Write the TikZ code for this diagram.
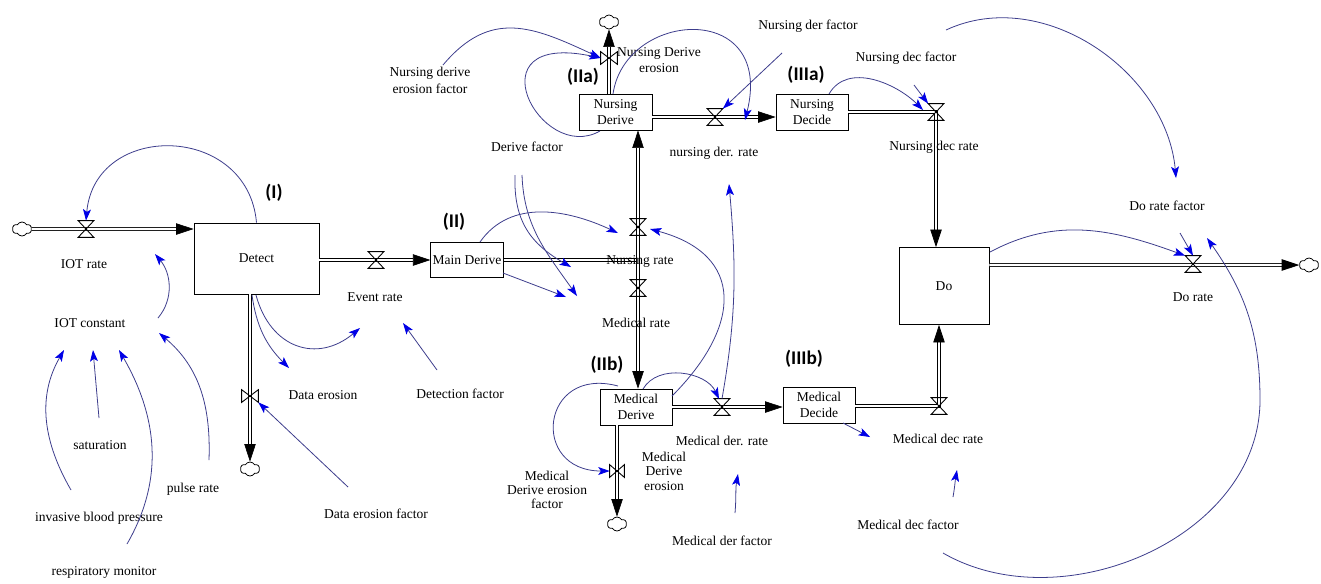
\documentclass[tikz,border=0pt]{standalone}
\usepackage{fontspec}
\setmainfont{Liberation Serif}
\newfontfamily\tagfont{Carlito}
\usetikzlibrary{arrows.meta, shapes.symbols}
\definecolor{linkc}{RGB}{60,60,140}
\definecolor{tipc}{RGB}{0,0,230}

\begin{document}
\begin{tikzpicture}[x=0.02cm, y=0.02cm,
  every node/.style={font=\rmfamily\fontsize{7.7}{9}\selectfont, inner sep=1pt, align=center},
  stock/.style={draw, fill=white, line width=0.45pt, minimum width=1.44cm, minimum height=0.72cm},
  tag/.style={font=\tagfont\bfseries\fontsize{11}{13}\selectfont},
  pipe/.style={draw, line width=0.4pt, double=white, double distance=1.3pt},
  flow/.style={pipe, -{Triangle[length=10pt,width=6.5pt]}},
  link/.style={draw=linkc, line width=0.45pt, -{Stealth[length=6.5pt,width=4.5pt,inset=1.5pt,color=tipc]}},
  valve/.style={minimum width=0.3cm, minimum height=0.32cm, inner sep=0pt},
  bowtie/.style={minimum width=0.32cm, minimum height=0.24cm, inner sep=0pt},
  sink/.style={cloud, cloud puffs=6, cloud puff arc=120, draw, line width=0.45pt, aspect=1.3, minimum width=0.38cm, minimum height=0.28cm, inner sep=0pt}
]
  \path[use as bounding box, fill=white] (0,0) rectangle (1321,-583);

  % stocks
  \node[stock, minimum width=2.5cm, minimum height=1.42cm] (detect) at (256.5,-258.5) {Detect};
  \node[stock, minimum height=0.7cm] (mainderive) at (467,-260) {Main Derive};
  \node[stock, minimum width=1.46cm] (nursderive) at (615.5,-112) {Nursing\\Derive};
  \node[stock] (nursdecide) at (812,-112) {Nursing\\Decide};
  \node[stock] (medderive) at (636,-407) {Medical\\Derive};
  \node[stock] (meddecide) at (819,-405) {Medical\\Decide};
  \node[stock, minimum width=1.8cm, minimum height=1.54cm] (do) at (944,-286) {Do};

  % sources and sinks
  \node[sink] (cl1) at (22,-229) {};
  \node[sink] (cl2) at (250,-469) {};
  \node[sink] (cl3) at (609,-22) {};
  \node[sink] (cl4) at (617,-524) {};
  \node[sink] (cl5) at (1309,-265) {};

  % pipes
  \coordinate (jn) at (638,-260);
  \coordinate (cn1) at (936,-112);
  \coordinate (cn2) at (939,-406);
  \draw[flow] (cl1) -- (cl1 -| detect.west);
  \draw[flow] (detect.east |- mainderive) -- (mainderive.west);
  \draw[flow] (detect.south -| cl2) -- (cl2);
  \draw[pipe] (mainderive.east) -- (jn);
  \draw[flow] (jn) -- (jn |- nursderive.south);
  \draw[flow] (jn) -- (jn |- medderive.north);
  \draw[flow] (nursderive.north -| cl3) -- (cl3);
  \draw[flow] ([yshift=-0.1cm]nursderive.east) -- ([yshift=-0.1cm]nursdecide.west);
  \draw[flow] (nursdecide.east) -- (cn1) -- (cn1 |- do.north);
  \draw[flow] (medderive.east) -- (medderive.east -| meddecide.west);
  \draw[flow] (medderive.south -| cl4) -- (cl4);
  \draw[flow] (meddecide.east |- cn2) -- (cn2) -- (cn2 |- do.south);
  \draw[flow] (do.east |- cl5) -- (cl5);

  % valves
  \node[valve] (viot) at (86,-229) {};
  \node[valve] (vevent) at (376,-260) {};
  \node[bowtie] (verode) at (250,-396) {};
  \node[valve] (vnrate) at (638,-227) {};
  \node[valve] (vmrate) at (638,-288) {};
  \node[bowtie] (vnerode) at (609,-58) {};
  \node[valve] (vnder) at (715,-117) {};
  \node[valve] (vndec) at (936,-112) {};
  \node[valve] (vmder) at (722,-407) {};
  \node[bowtie, minimum width=0.28cm] (vmerode) at (617,-471) {};
  \node[valve] (vmdec) at (939,-406) {};
  \node[valve] (vdo) at (1193,-264) {};
  \foreach \v in {viot,vevent,vnrate,vmrate,vnder,vndec,vmder,vmdec,vdo}
    \draw[line width=0.5pt] (\v.north west) -- (\v.north east) -- (\v.south west) -- (\v.south east) -- cycle;
  \foreach \v in {verode,vnerode,vmerode}
    \draw[line width=0.5pt] (\v.north west) -- (\v.south west) -- (\v.north east) -- (\v.south east) -- cycle;

  % rate labels
  \node (liot) at (84,-264) {IOT rate};
  \node (levent) at (375,-297) {Event rate};
  \node (lerode) at (323,-395) {Data erosion};
  \node (lnrate) at (640,-261) {Nursing rate};
  \node (lmrate) at (636,-323) {Medical rate};
  \node (lnerode) at (659,-60) {Nursing Derive\\erosion};
  \node (lnder) at (714,-153) {nursing der. rate};
  \node (lndec) at (934,-147) {Nursing dec rate};
  \node (lmder) at (722,-441) {Medical der. rate};
  \node[font=\rmfamily\fontsize{7.7}{8.2}\selectfont] (lmerode) at (664,-471) {Medical\\Derive\\erosion};
  \node (lmdec) at (938,-439) {Medical dec rate};
  \node (ldo) at (1193,-297) {Do rate};

  % auxiliaries
  \node (iotc) at (90,-323) {IOT constant};
  \node (sat) at (100,-445) {saturation};
  \node (pulse) at (193,-489) {pulse rate};
  \node (ibp) at (99,-518) {invasive blood pressure};
  \node (resp) at (104,-572) {respiratory monitor};
  \node (def) at (376,-514) {Data erosion factor};
  \node (detf) at (460,-394) {Detection factor};
  \node (derf) at (527,-147) {Derive factor};
  \node[font=\rmfamily\fontsize{7.7}{9.6}\selectfont] (nderf) at (430,-80) {Nursing derive\\erosion factor};
  \node (nderfac) at (808,-26) {Nursing der factor};
  \node (ndecf) at (906,-58) {Nursing dec factor};
  \node (dof) at (1167,-206) {Do rate factor};
  \node (mderfac) at (722,-541) {Medical der factor};
  \node (mdecf) at (908,-525) {Medical dec factor};
  \node[font=\rmfamily\fontsize{7.7}{7.8}\selectfont] (mderf) at (547,-490) {Medical\\Derive erosion\\factor};

  % section tags
  \node[tag] (t1) at (274,-193) {(I)};
  \node[tag] (t2) at (454,-222) {(II)};
  \node[tag] (t2a) at (583,-77) {(IIa)};
  \node[tag] (t3a) at (806,-75) {(IIIa)};
  \node[tag] (t2b) at (607,-365) {(IIb)};
  \node[tag] (t3b) at (804,-359) {(IIIb)};

  % free ends of the links
  \coordinate (k2a) at (158,-318);  \coordinate (k2b) at (155,-254);
  \coordinate (k3a) at (99,-418);   \coordinate (k3b) at (93,-350);
  \coordinate (k4a) at (71,-490);   \coordinate (k4b) at (64,-350);
  \coordinate (k5a) at (127,-544);  \coordinate (k5b) at (119,-350);
  \coordinate (k6a) at (209,-460);  \coordinate (k6b) at (159,-333);
  \coordinate (k7a) at (252,-295);  \coordinate (k7b) at (289,-368);
  \coordinate (k8a) at (256,-295);  \coordinate (k8b) at (360,-328);
  \coordinate (k9a) at (437,-370);  \coordinate (k9b) at (403,-323);
  \coordinate (k10a) at (348,-487);
  \coordinate (k11a) at (480,-242); \coordinate (k11b) at (618,-233);
  \coordinate (k12a) at (503,-273); \coordinate (k12b) at (566,-297);
  \coordinate (k13a) at (515,-175); \coordinate (k13b) at (571,-267);
  \coordinate (k13c) at (522,-175); \coordinate (k13d) at (577,-296);
  \coordinate (k14a) at (672,-396); \coordinate (k14b) at (650,-229);
  \coordinate (k15a) at (643,-389); \coordinate (k15b) at (719,-399);
  \coordinate (k16b) at (729,-184);
  \coordinate (k17a) at (735,-513); \coordinate (k17b) at (738,-474);
  \coordinate (k18a) at (618,-386);
  \coordinate (k19a) at (843,-423); \coordinate (k19b) at (870,-437);
  \coordinate (k20a) at (953,-497); \coordinate (k20b) at (957,-470);
  \coordinate (k21a) at (990,-252);
  \coordinate (k22a) at (1180,-233);
  \coordinate (k23a) at (943,-553); \coordinate (k23m) at (1260,-400); \coordinate (k23b) at (1207,-238);
  \coordinate (k24a) at (946,-30);  \coordinate (k24b) at (1176,-178);
  \coordinate (k25a) at (829,-94);  \coordinate (k25b) at (923,-110);
  \coordinate (k26a) at (914,-85);
  \coordinate (k27a) at (782,-53);
  \coordinate (k28a) at (613,-94);  \coordinate (k28b) at (745,-120);
  \coordinate (k29a) at (443,-65);
  \coordinate (k30a) at (600,-131);

  % links
  \foreach \a/\b in {k3a/k3b, k9a/k9b, k12a/k12b, k19a/k19b, k10a/verode.south east, k22a/vdo.north, k26a/vndec.north west, k27a/vnder.north east}
    \draw[link] (\a) -- (\b);
  \draw[link] (detect.north) to[out=95,in=85,looseness=1.5] (viot.north);
  \draw[link] (k2a) to[out=50,in=-50] (k2b);
  \draw[link] (k4a) to[out=120,in=-120] (k4b);
  \draw[link] (k5a) to[out=60,in=-60] (k5b);
  \draw[link] (k6a) to[out=88,in=-40] (k6b);
  \draw[link] (k7a) to[out=-82,in=135] (k7b);
  \draw[link] (k8a) to[out=-75,in=-140,looseness=1.3] (k8b);
  \draw[link] (k11a) to[out=55,in=155] (k11b);
  \draw[link] (k13a) to[out=-92,in=150,looseness=1.1] (k13b);
  \draw[link] (k13c) to[out=-88,in=125] (k13d);
  \draw[link] (k14a) to[out=45,in=-15,looseness=1.5] (k14b);
  \draw[link] (k15a) to[out=60,in=115] (k15b);
  \draw[link] (vmder.north) to[out=80,in=-85] (k16b);
  \draw[link] (k17a) to[out=85,in=-100] (k17b);
  \draw[link] (k18a) to[out=165,in=180,looseness=2.4] (vmerode.west);
  \draw[link] (k20a) to[out=80,in=-100] (k20b);
  \draw[link] (k21a) to[out=28,in=160] (vdo.north west);
  \draw[link] (k23a) to[out=-30,in=-90] (k23m) to[out=90,in=-55] (k23b);
  \draw[link] (k24a) to[out=25,in=95] (k24b);
  \draw[link] (k25a) to[out=60,in=135] (k25b);
  \draw[link] (k28a) .. controls (625,-10) and (775,0) .. (k28b);
  \draw[link] (k29a) to[out=50,in=155,looseness=1.2] (vnerode.west);
  \draw[link] (k30a) .. controls (540,-165) and (470,-30) .. (vnerode.west);
\end{tikzpicture}
\end{document}
